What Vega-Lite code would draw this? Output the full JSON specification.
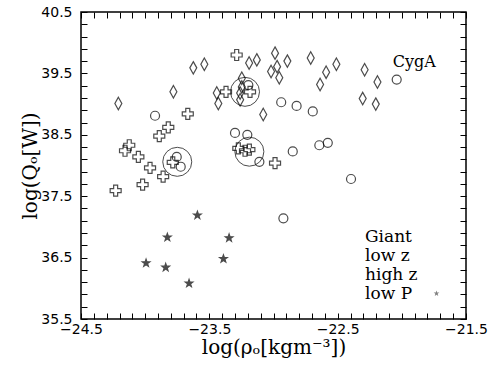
{
  "$schema": "https://vega.github.io/schema/vega-lite/v6.json",
  "width": 385,
  "height": 307,
  "autosize": "none",
  "padding": {"left": 81, "top": 12, "right": 23, "bottom": 50},
  "background": "white",
  "config": {
    "view": {"stroke": "black", "strokeWidth": 1.5}
  },
  "datasets": {
    "pts": [
      {"group": "Giant", "x": -23.287, "y": 39.80},
      {"group": "Giant", "x": -23.37, "y": 39.20},
      {"group": "Giant", "x": -23.183, "y": 39.20},
      {"group": "Giant", "x": -23.668, "y": 38.84},
      {"group": "Giant", "x": -23.82, "y": 38.62},
      {"group": "Giant", "x": -23.89, "y": 38.48},
      {"group": "Giant", "x": -24.124, "y": 38.33},
      {"group": "Giant", "x": -24.157, "y": 38.24},
      {"group": "Giant", "x": -24.053, "y": 38.14},
      {"group": "Giant", "x": -23.962, "y": 37.96},
      {"group": "Giant", "x": -23.785, "y": 38.05},
      {"group": "Giant", "x": -23.274, "y": 38.28},
      {"group": "Giant", "x": -23.222, "y": 38.24},
      {"group": "Giant", "x": -23.188, "y": 38.26},
      {"group": "Giant", "x": -22.988, "y": 38.04},
      {"group": "Giant", "x": -23.86, "y": 37.82},
      {"group": "Giant", "x": -24.02, "y": 37.69},
      {"group": "Giant", "x": -24.23, "y": 37.59},
      {"group": "low z", "x": -23.923, "y": 38.81},
      {"group": "low z", "x": -23.30, "y": 38.53},
      {"group": "low z", "x": -23.204, "y": 38.50},
      {"group": "low z", "x": -23.754, "y": 38.14},
      {"group": "low z", "x": -23.723, "y": 37.98},
      {"group": "low z", "x": -23.11, "y": 38.06},
      {"group": "low z", "x": -23.196, "y": 39.31},
      {"group": "low z", "x": -22.94, "y": 39.03},
      {"group": "low z", "x": -22.82, "y": 38.97},
      {"group": "low z", "x": -22.694, "y": 38.88},
      {"group": "low z", "x": -22.85, "y": 38.23},
      {"group": "low z", "x": -22.643, "y": 38.33},
      {"group": "low z", "x": -22.577, "y": 38.37},
      {"group": "low z", "x": -22.04, "y": 39.40, "name": "CygA"},
      {"group": "low z", "x": -22.396, "y": 37.78},
      {"group": "low z", "x": -22.923, "y": 37.14},
      {"group": "high z", "x": -24.209, "y": 39.01},
      {"group": "high z", "x": -23.78, "y": 39.20},
      {"group": "high z", "x": -23.625, "y": 39.59},
      {"group": "high z", "x": -23.539, "y": 39.65},
      {"group": "high z", "x": -23.442, "y": 39.18},
      {"group": "high z", "x": -23.43, "y": 39.01},
      {"group": "high z", "x": -23.247, "y": 39.42},
      {"group": "high z", "x": -23.247, "y": 39.28},
      {"group": "high z", "x": -23.26, "y": 39.18},
      {"group": "high z", "x": -23.26, "y": 39.07},
      {"group": "high z", "x": -23.19, "y": 39.67},
      {"group": "high z", "x": -23.13, "y": 39.72},
      {"group": "high z", "x": -22.988, "y": 39.83},
      {"group": "high z", "x": -23.019, "y": 39.53},
      {"group": "high z", "x": -22.972, "y": 39.61},
      {"group": "high z", "x": -22.955, "y": 39.43},
      {"group": "high z", "x": -22.892, "y": 39.70},
      {"group": "high z", "x": -22.71, "y": 39.75},
      {"group": "high z", "x": -22.59, "y": 39.52},
      {"group": "high z", "x": -22.51, "y": 39.65},
      {"group": "high z", "x": -22.637, "y": 39.32},
      {"group": "high z", "x": -22.29, "y": 39.56},
      {"group": "high z", "x": -22.19, "y": 39.36},
      {"group": "high z", "x": -22.305, "y": 39.09},
      {"group": "high z", "x": -22.203, "y": 39.00},
      {"group": "high z", "x": -23.08, "y": 38.83},
      {"group": "low P", "x": -23.593, "y": 37.19},
      {"group": "low P", "x": -23.827, "y": 36.83},
      {"group": "low P", "x": -23.346, "y": 36.82},
      {"group": "low P", "x": -23.993, "y": 36.41},
      {"group": "low P", "x": -23.84, "y": 36.34},
      {"group": "low P", "x": -23.39, "y": 36.48},
      {"group": "low P", "x": -23.658, "y": 36.08}
    ],
    "rings": [
      {"x": -23.222, "y": 39.20},
      {"x": -23.75, "y": 38.06},
      {"x": -23.188, "y": 38.225}
    ]
  },
  "resolve": {"axis": {"x": "independent", "y": "independent"}},
  "layer": [
    {
      "data": {"name": "pts"},
      "mark": {"type": "point", "stroke": "black", "strokeWidth": 1.2, "size": 144},
      "encoding": {
        "x": {
          "field": "x", "type": "quantitative",
          "scale": {"domain": [-24.5, -21.5], "nice": false, "zero": false},
          "axis": {
            "orient": "bottom",
            "values": [-24.5,-24.4,-24.3,-24.2,-24.1,-24.0,-23.9,-23.8,-23.7,-23.6,-23.5,-23.4,-23.3,-23.2,-23.1,-23.0,-22.9,-22.8,-22.7,-22.6,-22.5,-22.4,-22.3,-22.2,-22.1,-22.0,-21.9,-21.8,-21.7,-21.6,-21.5],
            "format": ".1f",
            "labelExpr": "round(datum.value*10)%10 == -5 ? datum.label : ''",
            "labelOverlap": false,
            "labelFlush": false,
            "grid": false,
            "domain": false,
            "ticks": true,
            "tickSize": -6,
            "tickColor": "black",
            "tickWidth": 1,
            "labelPadding": 9,
            "labelFont": "DejaVu Sans",
            "labelFontSize": 14,
            "labelColor": "black",
            "title": "log(ρₒ[kgm⁻³])",
            "titleFont": "DejaVu Serif",
            "titleFontSize": 20,
            "titleFontWeight": "normal",
            "titleColor": "black",
            "titlePadding": 1
          }
        },
        "y": {
          "field": "y", "type": "quantitative",
          "scale": {"domain": [35.5, 40.5], "nice": false, "zero": false},
          "axis": {
            "orient": "left",
            "values": [35.5,35.7,35.9,36.1,36.3,36.5,36.7,36.9,37.1,37.3,37.5,37.7,37.9,38.1,38.3,38.5,38.7,38.9,39.1,39.3,39.5,39.7,39.9,40.1,40.3,40.5],
            "format": ".1f",
            "labelExpr": "round(datum.value*10)%10 == 5 ? datum.label : ''",
            "labelOverlap": false,
            "labelFlush": false,
            "grid": false,
            "domain": false,
            "ticks": true,
            "tickSize": -6,
            "tickColor": "black",
            "tickWidth": 1,
            "labelPadding": 15,
            "labelFont": "DejaVu Sans",
            "labelFontSize": 14,
            "labelColor": "black",
            "title": "log(Qₒ[W])",
            "titleFont": "DejaVu Serif",
            "titleFontSize": 20,
            "titleFontWeight": "normal",
            "titleColor": "black",
            "titlePadding": 0
          }
        },
        "shape": {
          "field": "group", "type": "nominal",
          "scale": {
            "domain": ["Giant", "low z", "high z", "low P"],
            "range": [
              "M-0.917,-0.333H-0.333V-0.917H0.333V-0.333H0.917V0.333H0.333V0.917H-0.333V0.333H-0.917Z",
              "M0.75,0A0.75,0.75,0,1,1,-0.75,0A0.75,0.75,0,1,1,0.75,0Z",
              "M0,-1.04L0.58,0L0,1.04L-0.58,0Z",
              "M0,-0.667L0.157,-0.216L0.634,-0.206L0.253,0.083L0.392,0.539L0,0.267L-0.392,0.539L-0.253,0.083L-0.634,-0.206L-0.157,-0.216Z"
            ]
          },
          "legend": {
            "orient": "none",
            "legendX": 347,
            "legendY": 216,
            "title": null,
            "padding": 0,
            "labelFont": "DejaVu Serif",
            "labelFontSize": 17,
            "labelColor": "black",
            "labelAlign": "left",
            "labelOffset": -80,
            "symbolStrokeColor": "black",
            "symbolStrokeWidth": 1.1,
            "symbolSize": 81,
            "rowPadding": 1
          }
        },
        "fill": {
          "field": "group", "type": "nominal",
          "scale": {"domain": ["Giant", "low z", "high z", "low P"], "range": ["transparent", "transparent", "transparent", "black"]}
        }
      }
    },
    {
      "data": {"name": "rings"},
      "mark": {"type": "point", "shape": "circle", "size": 841, "stroke": "black", "strokeWidth": 1, "fill": "transparent"},
      "encoding": {
        "x": {
          "field": "x", "type": "quantitative",
          "axis": {
            "orient": "top",
            "values": [-24.5,-24.4,-24.3,-24.2,-24.1,-24.0,-23.9,-23.8,-23.7,-23.6,-23.5,-23.4,-23.3,-23.2,-23.1,-23.0,-22.9,-22.8,-22.7,-22.6,-22.5,-22.4,-22.3,-22.2,-22.1,-22.0,-21.9,-21.8,-21.7,-21.6,-21.5],
            "labels": false, "grid": false, "domain": false, "ticks": true, "tickSize": -6, "tickColor": "black", "tickWidth": 1, "title": null
          }
        },
        "y": {
          "field": "y", "type": "quantitative",
          "axis": {
            "orient": "right",
            "values": [35.5,35.7,35.9,36.1,36.3,36.5,36.7,36.9,37.1,37.3,37.5,37.7,37.9,38.1,38.3,38.5,38.7,38.9,39.1,39.3,39.5,39.7,39.9,40.1,40.3,40.5],
            "labels": false, "grid": false, "domain": false, "ticks": true, "tickSize": -6, "tickColor": "black", "tickWidth": 1, "title": null
          }
        }
      }
    },
    {
      "data": {"name": "pts"},
      "transform": [{"filter": "datum.name == 'CygA'"}],
      "mark": {"type": "text", "align": "left", "baseline": "alphabetic", "dx": -4, "dy": -13, "font": "DejaVu Serif", "fontSize": 16, "color": "black"},
      "encoding": {
        "x": {"field": "x", "type": "quantitative", "axis": null},
        "y": {"field": "y", "type": "quantitative", "axis": null},
        "text": {"field": "name"}
      }
    }
  ]
}
